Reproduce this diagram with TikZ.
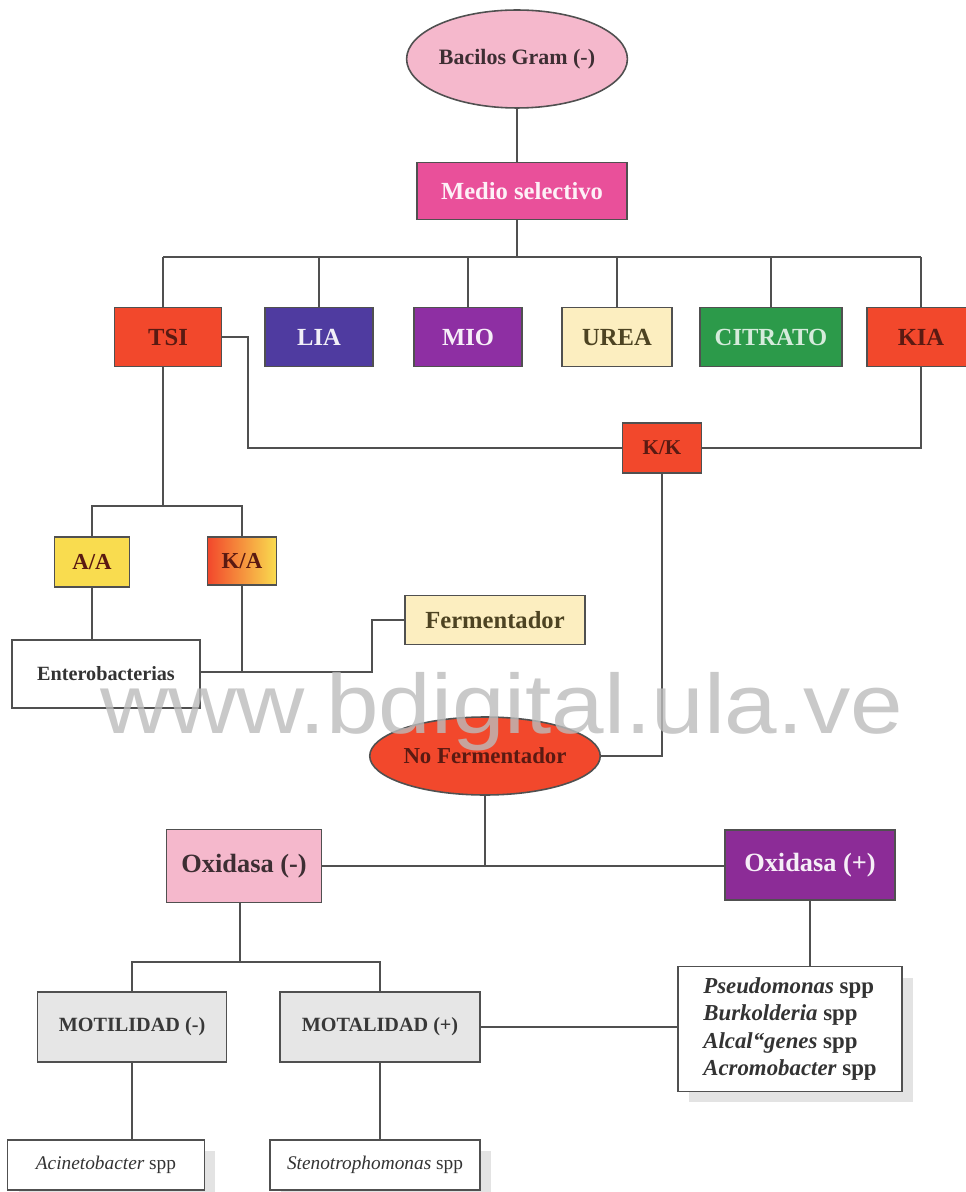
\documentclass[tikz,border=0pt]{standalone}
\usepackage{fontspec}
\setmainfont{Liberation Serif}
\newfontfamily\wmfont{Liberation Sans}
\usetikzlibrary{shapes.geometric,shadows}

\definecolor{linegray}{HTML}{505050}
\definecolor{gpink}{HTML}{F5B8CC}
\definecolor{gmagenta}{HTML}{E9509A}
\definecolor{gred}{HTML}{F2482C}
\definecolor{gindigo}{HTML}{4F3BA0}
\definecolor{gpurple}{HTML}{8E2FA3}
\definecolor{gcream}{HTML}{FCEEC0}
\definecolor{ggreen}{HTML}{2C9A4A}
\definecolor{gyellow}{HTML}{F9DC4F}
\definecolor{gviolet}{HTML}{8C2C97}
\definecolor{glight}{HTML}{E6E6E6}
\definecolor{darkred}{HTML}{5A1A12}
\definecolor{darkolive}{HTML}{4D4322}
\definecolor{wmgray}{HTML}{BBBBBB}

\begin{document}
\begin{tikzpicture}[x=0.02cm, y=-0.02cm,
  box/.style={draw=linegray, line width=0.9pt, rectangle, inner sep=0pt,
    font=\bfseries\fontsize{14}{16}\selectfont},
  oval/.style={box, ellipse},
  link/.style={draw=linegray, line width=1.1pt},
  shadowed/.style={drop shadow={shadow xshift=0.22cm, shadow yshift=-0.22cm, opacity=0.22}}]

  \useasboundingbox (0,0) rectangle (965,1192);

  \node[oval, fill=gpink, text=black!75!gpink, minimum width=4.1cm, minimum height=1.96cm,
    font=\bfseries\fontsize{12.5}{14}\selectfont] (bac) at (517,59) {Bacilos Gram (-)};
  \node[box, fill=gmagenta, text=white!92!gmagenta, minimum width=4.2cm, minimum height=1.14cm] (med) at (522,191) {Medio selectivo};

  \node[box, fill=gred, text=darkred, minimum width=2.14cm, minimum height=1.18cm] (tsi) at (168,337) {TSI};
  \node[box, fill=gindigo, text=white!92!gindigo, minimum width=2.16cm, minimum height=1.18cm] (lia) at (319,337) {LIA};
  \node[box, fill=gpurple, text=white!92!gpurple, minimum width=2.16cm, minimum height=1.18cm] (mio) at (468,337) {MIO};
  \node[box, fill=gcream, text=darkolive, minimum width=2.2cm, minimum height=1.18cm] (urea) at (617,337) {UREA};
  \node[box, fill=ggreen, text=white!80!ggreen, minimum width=2.84cm, minimum height=1.18cm] (cit) at (771,337) {CITRATO};
  \node[box, fill=gred, text=darkred, minimum width=2.16cm, minimum height=1.18cm] (kia) at (921,337) {KIA};

  \node[box, fill=gred, text=darkred, minimum width=1.58cm, minimum height=1cm,
    font=\bfseries\fontsize{12}{14}\selectfont] (kk) at (662,448) {K/K};
  \node[box, fill=gyellow, text=darkred, minimum width=1.5cm, minimum height=1cm,
    font=\bfseries\fontsize{13}{14}\selectfont] (aa) at (92,562) {A/A};
  \node[box, left color=gred, right color=gyellow, text=darkred, minimum width=1.38cm, minimum height=0.96cm,
    font=\bfseries\fontsize{13}{14}\selectfont] (ka) at (242,561) {K/A};
  \node[box, fill=white, text=black!80, minimum width=3.76cm, minimum height=1.36cm,
    font=\bfseries\fontsize{11.5}{13}\selectfont] (ent) at (106,674) {Enterobacterias};
  \node[box, fill=gcream, text=darkolive, minimum width=3.6cm, minimum height=0.98cm] (fer) at (495,620) {Fermentador};
  \node[oval, fill=gred, text=darkred, minimum width=4.52cm, minimum height=1.56cm,
    font=\bfseries\fontsize{13}{14}\selectfont] (nof) at (485,756) {No Fermentador};

  \node[box, fill=gpink, text=black!75!gpink, minimum width=3.1cm, minimum height=1.46cm,
    font=\bfseries\fontsize{15}{16}\selectfont] (oxn) at (244,866) {Oxidasa (-)};
  \node[box, fill=gviolet, text=white!92!gviolet, minimum width=3.4cm, minimum height=1.4cm,
    font=\bfseries\fontsize{15}{16}\selectfont] (oxp) at (810,865) {Oxidasa (+)};

  \node[box, fill=glight, text=black!78, minimum width=3.78cm, minimum height=1.4cm,
    font=\bfseries\fontsize{11.5}{13}\selectfont] (mon) at (132,1027) {MOTILIDAD (-)};
  \node[box, fill=glight, text=black!78, minimum width=4cm, minimum height=1.4cm,
    font=\bfseries\fontsize{11.5}{13}\selectfont] (mop) at (380,1027) {MOTALIDAD (+)};
  \node[box, shadowed, fill=white, text=black!80, minimum width=4.48cm, minimum height=2.5cm,
    align=left, font=\bfseries\fontsize{13}{15.5}\selectfont] (pse) at (790,1029)
    {\textit{Pseudomonas} spp\\ \textit{Burkolderia} spp\\ \textit{Alcal“genes} spp\\ \textit{Acromobacter} spp};
  \node[box, shadowed, fill=white, text=black!80, minimum width=3.94cm, minimum height=1cm,
    font=\fontsize{11}{13}\selectfont] (aci) at (106,1165) {\textit{Acinetobacter} spp};
  \node[box, shadowed, fill=white, text=black!80, minimum width=4.2cm, minimum height=1cm,
    font=\fontsize{11}{13}\selectfont] (ste) at (375,1165) {\textit{Stenotrophomonas} spp};

  \coordinate (busl) at (163,257);
  \coordinate (busr) at (kia.north |- busl);
  \coordinate (jtsi) at (163,506);
  \coordinate (jent) at (372,672);
  \coordinate (joxn) at (240,962);

  \draw[link] (bac.south) -- (bac.south |- med.north);
  \draw[link] (bac.south |- med.south) -- (bac.south |- busl);
  \draw[link] (busl) -- (busr);
  \foreach \n in {lia,mio,urea,cit,kia}
    \draw[link] (\n.north) -- (\n.north |- busl);
  \draw[link] (busl) -- (busl |- tsi.north);

  \draw[link] (tsi.east) -- ++(26,0) |- (kk.west);
  \draw[link] (kk.east) -| (kia.south);
  \draw[link] (jtsi |- tsi.south) -- (jtsi);
  \draw[link] (aa.north) |- (jtsi) -| (ka.north);
  \draw[link] (aa.south) -- (aa.south |- ent.north);
  \draw[link] (ka.south) -- (ka.south |- jent);
  \draw[link] (ent.east |- jent) -- (jent) |- (fer.west);
  \draw[link] (kk.south) |- (nof.east);

  \draw[link] (nof.south) -- (nof.south |- oxn.east);
  \draw[link] (oxn.east) -- (oxp.west |- oxn.east);
  \draw[link] (joxn |- oxn.south) -- (joxn);
  \draw[link] (mon.north) |- (joxn) -| (mop.north);
  \draw[link] (mon.south) -- (mon.south |- aci.north);
  \draw[link] (mop.south) -- (mop.south |- ste.north);
  \draw[link] (mop.east) -- (pse.west |- mop.east);
  \draw[link] (oxp.south) -- (oxp.south |- pse.north);

  \node[font=\wmfont\fontsize{48}{48}\selectfont, text=wmgray, opacity=0.8] (wm) at (502,712)
    {\scalebox{1.12}[1]{www.bdigital.ula.ve}};

\end{tikzpicture}
\end{document}
